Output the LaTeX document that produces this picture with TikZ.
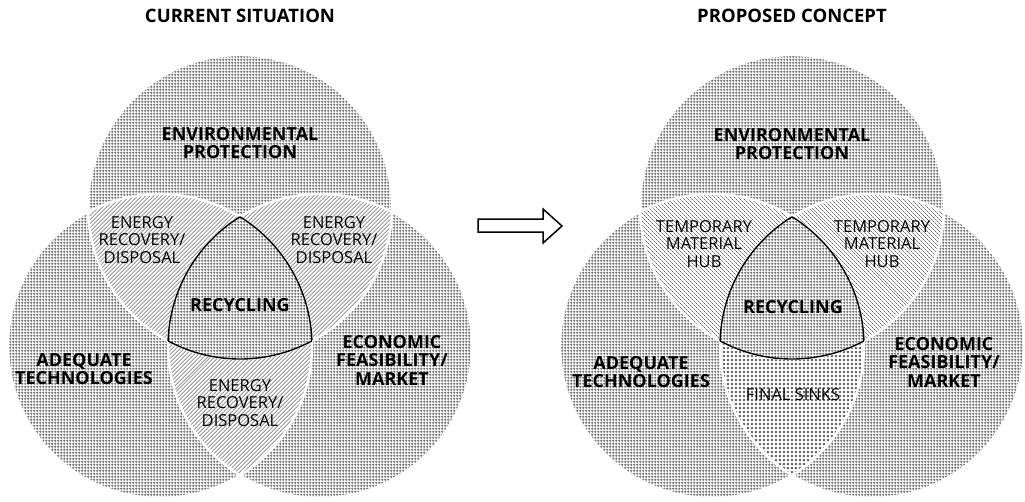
\documentclass[tikz,border=0pt]{standalone}
\usepackage{fontspec}
\setmainfont{Open Sans}
\usetikzlibrary{patterns.meta}
\definecolor{gridgray}{gray}{0.4}
\definecolor{hatchgray}{gray}{0.42}
\tikzdeclarepattern{
  name=vgrid, type=uncolored,
  bounding box={(0pt,0pt) and (3pt,3pt)},
  tile size={(3pt,3pt)},
  code={\draw[line width=1pt] (0pt,1.5pt) -- (3pt,1.5pt) (1.5pt,0pt) -- (1.5pt,3pt);}
}
\tikzdeclarepattern{
  name=hatchne, type=uncolored,
  bounding box={(0pt,0pt) and (3.4pt,3.4pt)},
  tile size={(3.4pt,3.4pt)},
  tile transformation={rotate=45},
  code={\draw[line width=0.9pt] (-0.1pt,1.7pt) -- (3.5pt,1.7pt);}
}
\tikzdeclarepattern{
  name=hatchnw, type=uncolored,
  bounding box={(0pt,0pt) and (3pt,3pt)},
  tile size={(3pt,3pt)},
  tile transformation={rotate=-45},
  code={\draw[line width=0.85pt] (-0.1pt,1.5pt) -- (3.1pt,1.5pt);}
}
\tikzdeclarepattern{
  name=dotgrid, type=uncolored,
  bounding box={(0pt,0pt) and (4.3pt,4.3pt)},
  tile size={(4.3pt,4.3pt)},
  code={\fill (1.1pt,1.1pt) rectangle (3.2pt,3.2pt);}
}
\def\vr{152pt}
\begin{document}
\begin{tikzpicture}[x=1pt,y=-1pt,
  big/.style={font=\fontsize{18}{18.5}\selectfont\bfseries, align=center, inner sep=0pt},
  small/.style={font=\fontsize{16.5}{17.5}\selectfont, align=center, inner sep=0pt},
  ttl/.style={font=\fontsize{18.5}{20}\selectfont\bfseries, inner sep=0pt},
  sepline/.style={draw=white, line width=2.4pt},
  rim/.style={draw=black, line width=1.4pt},
  gridfill/.style={pattern=vgrid, pattern color=gridgray},
  hatchA/.style={pattern=hatchne, pattern color=hatchgray},
  hatchB/.style={pattern=hatchnw, pattern color=hatchgray},
  dotfill/.style={pattern=dotgrid, pattern color=gridgray},
  bigarrow/.style={draw=black, line width=1.5pt, fill=white, line join=miter}
]
\useasboundingbox (0,0) rectangle (1025,501);

% ---------------- left diagram ----------------
\coordinate (T1) at (240,207);
\coordinate (L1) at (160,346);
\coordinate (R1) at (320,346);
\path[gridfill] (T1) circle[radius=\vr] (L1) circle[radius=\vr] (R1) circle[radius=\vr];
\begin{scope}\clip (T1) circle[radius=\vr];
  \fill[white] (L1) circle[radius=\vr] (R1) circle[radius=\vr];
  \path[hatchA] (L1) circle[radius=\vr] (R1) circle[radius=\vr];
\end{scope}
\begin{scope}\clip (L1) circle[radius=\vr];
  \fill[white] (R1) circle[radius=\vr];
  \path[hatchA] (R1) circle[radius=\vr];
\end{scope}
\path[sepline] (T1) circle[radius=\vr] (L1) circle[radius=\vr] (R1) circle[radius=\vr];
\begin{scope}\clip (T1) circle[radius=\vr]; \clip (L1) circle[radius=\vr];
  \fill[white] (R1) circle[radius=\vr];
  \path[gridfill] (R1) circle[radius=\vr];
\end{scope}
\begin{scope}\clip (T1) circle[radius=\vr]; \clip (L1) circle[radius=\vr];
  \path[rim] (R1) circle[radius=\vr];
\end{scope}
\begin{scope}\clip (T1) circle[radius=\vr]; \clip (R1) circle[radius=\vr];
  \path[rim] (L1) circle[radius=\vr];
\end{scope}
\begin{scope}\clip (L1) circle[radius=\vr]; \clip (R1) circle[radius=\vr];
  \path[rim] (T1) circle[radius=\vr];
\end{scope}

\node[ttl] (t1) at (240,16) {CURRENT SITUATION};
\node[big] (env1) at (240,143) {ENVIRONMENTAL\\PROTECTION};
\node[small] (erA) at (142,240) {ENERGY\\RECOVERY/\\DISPOSAL};
\node[small] (erB) at (334,240) {ENERGY\\RECOVERY/\\DISPOSAL};
\node[small] (erC) at (240,403) {ENERGY\\RECOVERY/\\DISPOSAL};
\node[big] (rec1) at (240,305) {RECYCLING};
\node[big] (adq1) at (84,369) {ADEQUATE\\TECHNOLOGIES};
\node[big] (eco1) at (392,360) {ECONOMIC\\FEASIBILITY/\\MARKET};

% ---------------- arrow ----------------
\draw[bigarrow] (478,219) -- (543,219) -- (543,209) -- (562,226) -- (543,243) -- (543,232) -- (478,232) -- cycle;

% ---------------- right diagram ----------------
\coordinate (T2) at (792,207);
\coordinate (L2) at (712,346);
\coordinate (R2) at (872,346);
\path[gridfill] (T2) circle[radius=\vr] (L2) circle[radius=\vr] (R2) circle[radius=\vr];
\begin{scope}\clip (T2) circle[radius=\vr];
  \fill[white] (L2) circle[radius=\vr] (R2) circle[radius=\vr];
  \path[hatchB] (L2) circle[radius=\vr] (R2) circle[radius=\vr];
\end{scope}
\begin{scope}\clip (L2) circle[radius=\vr];
  \fill[white] (R2) circle[radius=\vr];
  \path[dotfill] (R2) circle[radius=\vr];
\end{scope}
\path[sepline] (T2) circle[radius=\vr] (L2) circle[radius=\vr] (R2) circle[radius=\vr];
\begin{scope}\clip (T2) circle[radius=\vr]; \clip (L2) circle[radius=\vr];
  \fill[white] (R2) circle[radius=\vr];
  \path[gridfill] (R2) circle[radius=\vr];
\end{scope}
\begin{scope}\clip (T2) circle[radius=\vr]; \clip (L2) circle[radius=\vr];
  \path[rim] (R2) circle[radius=\vr];
\end{scope}
\begin{scope}\clip (T2) circle[radius=\vr]; \clip (R2) circle[radius=\vr];
  \path[rim] (L2) circle[radius=\vr];
\end{scope}
\begin{scope}\clip (L2) circle[radius=\vr]; \clip (R2) circle[radius=\vr];
  \path[rim] (T2) circle[radius=\vr];
\end{scope}

\node[ttl] (t2) at (792,16) {PROPOSED CONCEPT};
\node[big] (env2) at (792,144) {ENVIRONMENTAL\\PROTECTION};
\node[small] (hubA) at (704,244) {TEMPORARY\\MATERIAL\\HUB};
\node[small] (hubB) at (882,244) {TEMPORARY\\MATERIAL\\HUB};
\node[big] (rec2) at (793,307) {RECYCLING};
\node[big] (adq2) at (641,372) {ADEQUATE\\TECHNOLOGIES};
\node[big] (eco2) at (944,362) {ECONOMIC\\FEASIBILITY/\\MARKET};
\node[small] (fin2) at (793,395) {FINAL SINKS};
\end{tikzpicture}
\end{document}
